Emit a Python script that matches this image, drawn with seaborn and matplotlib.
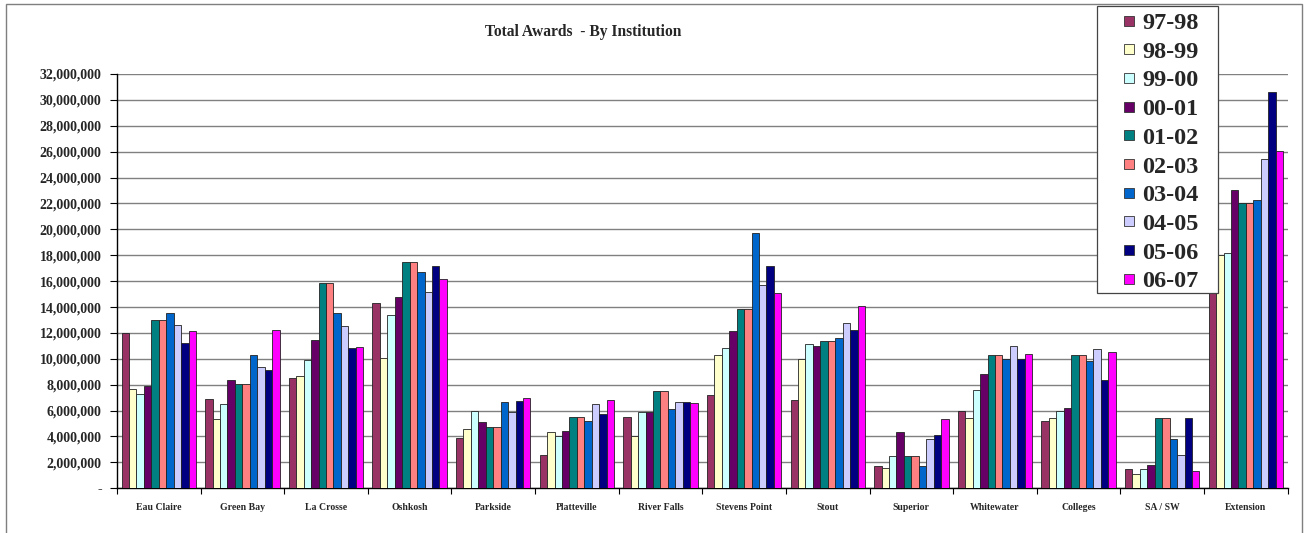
import numpy as np
import pandas as pd
import matplotlib
matplotlib.use("Agg")
import matplotlib.pyplot as plt
import seaborn as sns
from matplotlib.ticker import FuncFormatter, MultipleLocator
from matplotlib.patches import Rectangle
from matplotlib.lines import Line2D

# data (values in millions)
institutions = ['Eau Claire', 'Green Bay', 'La Crosse', 'Oshkosh', 'Parkside',
                'Platteville', 'River Falls', 'Stevens Point', 'Stout', 'Superior',
                'Whitewater', 'Colleges', 'SA / SW', 'Extension']
years = ['97-98', '98-99', '99-00', '00-01', '01-02',
         '02-03', '03-04', '04-05', '05-06', '06-07']

y9798 = [12.0, 6.92, 8.49, 14.31, 3.86, 2.55, 5.48, 7.21, 6.80, 1.72, 5.95, 5.17, 1.47, 17.0]
y9899 = [7.70, 5.38, 8.70, 10.04, 4.61, 4.32, 4.02, 10.27, 9.99, 1.60, 5.41, 5.41, 1.08, 18.02]
y9900 = [7.31, 6.54, 9.94, 13.36, 5.97, 4.02, 5.87, 10.81, 11.12, 2.52, 7.62, 5.97, 1.47, 18.20]
y0001 = [7.88, 8.34, 11.45, 14.77, 5.10, 4.40, 5.87, 12.15, 10.97, 4.32, 8.80, 6.18, 1.80, 23.04]
y0102 = [12.97, 8.03, 15.86, 17.45, 4.74, 5.48, 7.49, 13.82, 11.35, 2.47, 10.27, 10.27, 5.43, 22.01]
y0203 = [12.97, 8.03, 15.86, 17.45, 4.74, 5.48, 7.49, 13.82, 11.35, 2.47, 10.27, 10.27, 5.43, 22.01]
y0304 = [13.54, 10.27, 13.51, 16.68, 6.64, 5.17, 6.10, 19.69, 11.61, 1.70, 9.99, 9.83, 3.78, 22.27]
y0405 = [12.59, 9.40, 12.56, 15.14, 5.92, 6.49, 6.64, 15.73, 12.74, 3.78, 10.97, 10.73, 2.55, 25.41]
y0506 = [11.20, 9.14, 10.81, 17.17, 6.72, 5.74, 6.64, 17.17, 12.23, 4.12, 9.99, 8.37, 5.43, 30.60]
y0607 = [12.15, 12.20, 10.91, 16.14, 6.95, 6.80, 6.56, 15.08, 14.05, 5.33, 10.35, 10.53, 1.31, 26.05]

colors = ['#993366', '#FFFFCC', '#CCFFFF', '#660066', '#008080',
          '#FF8080', '#0066CC', '#CCCCFF', '#000080', '#FF00FF']

series = [y9798, y9899, y9900, y0001, y0102, y0203, y0304, y0405, y0506, y0607]
rows = []
for yr, vals in zip(years, series):
    for inst, v in zip(institutions, vals):
        rows.append({'Institution': inst, 'Year': yr, 'Awards': v * 1e6})
df = pd.DataFrame(rows)

sns.set_style("white")
plt.rcParams['font.family'] = ['Liberation Serif', 'DejaVu Serif']
plt.rcParams['font.weight'] = 'bold'

fig = plt.figure(figsize=(13.11, 5.33), dpi=100)
ax = fig.add_axes([0.0892, 0.0839, 0.8930, 0.7773])

sns.barplot(data=df, x='Institution', y='Awards', hue='Year', order=institutions,
            hue_order=years, palette=colors, saturation=1, width=0.89, gap=0,
            edgecolor='#222222', linewidth=0.6, ax=ax, legend=False, zorder=3)

ax.set_ylim(0, 32e6)
ax.set_xlim(-0.5, len(institutions) - 0.5)
ax.yaxis.set_major_locator(MultipleLocator(2e6))
ax.yaxis.set_major_formatter(FuncFormatter(lambda v, p: '-' if v == 0 else f'{v:,.0f}'))
ax.yaxis.grid(True, color='#808080', linewidth=1.0, zorder=0)
ax.set_axisbelow(True)
ax.set_xlabel('')
ax.set_ylabel('')

for s in ['top', 'right']:
    ax.spines[s].set_visible(False)
for s in ['left', 'bottom']:
    ax.spines[s].set_color('black')
    ax.spines[s].set_linewidth(1.0)

ax.tick_params(axis='y', which='major', left=True, length=5, width=0.8, color='black',
               labelsize=10, pad=6)
ax.tick_params(axis='x', which='major', bottom=False, labelsize=7, pad=7)
ax.set_xticks(np.arange(len(institutions)))
ax.set_xticklabels(institutions, fontweight='bold')
ax.set_xticks(np.arange(len(institutions) + 1) - 0.5, minor=True)
ax.tick_params(axis='x', which='minor', bottom=True, length=4, width=0.8, color='black')
for lab in ax.get_yticklabels():
    lab.set_fontweight('bold')

fig.text(0.445, 0.94, 'Total Awards  - By Institution', ha='center', va='center',
         fontsize=11.2, fontweight='bold')

# legend: square markers, box drawn separately to match the wide padding
handles = [Line2D([], [], linestyle='none', marker='s', markersize=6.8,
                  markerfacecolor=c, markeredgecolor='#333333', markeredgewidth=0.6)
           for c in colors]
leg = fig.legend(handles, years, loc='upper left', bbox_to_anchor=(1124 / 1311, 1 - 12 / 533),
                 bbox_transform=fig.transFigure, borderaxespad=0, frameon=False,
                 prop={'family': 'Liberation Serif', 'weight': 'bold', 'size': 17.5},
                 handlelength=0.38, handleheight=0.7, handletextpad=0.37,
                 labelspacing=0.275, borderpad=0)
fig.patches.append(Rectangle((1097 / 1311, 1 - 293 / 533), 121 / 1311, 287 / 533,
                             transform=fig.transFigure, facecolor='white',
                             edgecolor='#444444', linewidth=0.9, zorder=4))
leg.set_zorder(5)

fig.patches.append(Rectangle((0.0046, -0.05), 0.9885, 1.0425, transform=fig.transFigure,
                             fill=False, edgecolor='#7f7f7f', linewidth=1.0))

fig.savefig('out.png', dpi=100)
